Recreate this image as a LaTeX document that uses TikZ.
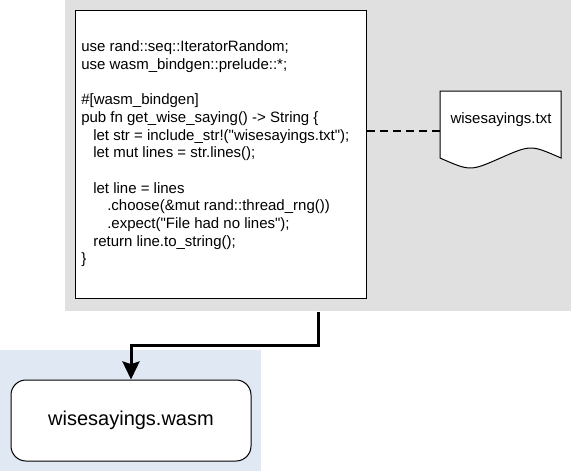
\documentclass[tikz,border=0pt]{standalone}
\usepackage{fontspec}
\setmainfont{Liberation Sans}[Ligatures=TeXOff]
\usetikzlibrary{arrows.meta}
\definecolor{groupgrey}{RGB}{224,224,224}
\definecolor{groupblue}{RGB}{224,232,244}
\tikzset{
	group/.style={draw=none, anchor=north west, inner sep=0pt},
	codebox/.style={draw=black, line width=0.75pt, fill=white, anchor=north west, inner sep=0pt},
	flow/.style={line width=2.25pt, -{Stealth[length=13.5pt,width=12.75pt,inset=2pt]}},
	link/.style={line width=1.5pt, dash pattern=on 6pt off 3.75pt}
}

\begin{document}
\begin{tikzpicture}[x=0.75pt,y=0.75pt,yscale=-1,xscale=1]
	\useasboundingbox (0,0) rectangle (571,471);

	%Groups
	\node [group, fill=groupgrey, minimum width=379.5pt, minimum height=233.25pt] (rustgroup) at (65,0) {};
	\node [group, fill=groupblue, minimum width=195.75pt, minimum height=90.75pt] (wasmgroup) at (0,350) {};

	%Rust source box
	\node [codebox, minimum width=218.25pt, minimum height=216pt] (rustsrc) at (75,10) {};
	% Text Node
	\node [anchor=west, inner sep=0pt, align=left, font=\fontsize{11.25}{13.25}\selectfont] (rustcode) at (81,154) {use rand::seq::IteratorRandom;\\
use wasm\_bindgen::prelude::*;\\[13.25pt]
\#[wasm\_bindgen]\\
pub fn get\_wise\_saying() -> String \{\\
\hspace*{9pt}let str = include\_str!("wisesayings.txt");\\
\hspace*{9pt}let mut lines = str.lines();\\[13.25pt]
\hspace*{9pt}let line = lines\\
\hspace*{19.5pt}.choose(\&mut rand::thread\_rng())\\
\hspace*{19.5pt}.expect("File had no lines");\\
\hspace*{9pt}return line.to\_string();\\
\}};

	%Text file
	\draw [line width=0.75pt, fill=white] (440,91) -- (561,91) -- (561,158) .. controls (530.75,144.7) .. (500.5,158) .. controls (470.25,171.3) .. (440,158) -- cycle;
	\coordinate (txtin) at (440,131);
	% Text Node
	\node [inner sep=0pt, font=\fontsize{11.25}{13.5}\selectfont] (txtfile) at (501,120) {wisesayings.txt};

	%Wasm output
	\node [draw=black, line width=0.75pt, fill=white, rounded corners=11.25pt, minimum width=180pt, minimum height=60.75pt, inner sep=0pt, font=\fontsize{15}{18}\selectfont] (wasmfile) at (131,420.5) {wisesayings.wasm};

	%Connectors
	\draw [link] (rustsrc.east |- txtin) -- (txtin);
	\draw [flow] (rustgroup.south) -- ++(0,34) -| (wasmfile.north);

\end{tikzpicture}
\end{document}
